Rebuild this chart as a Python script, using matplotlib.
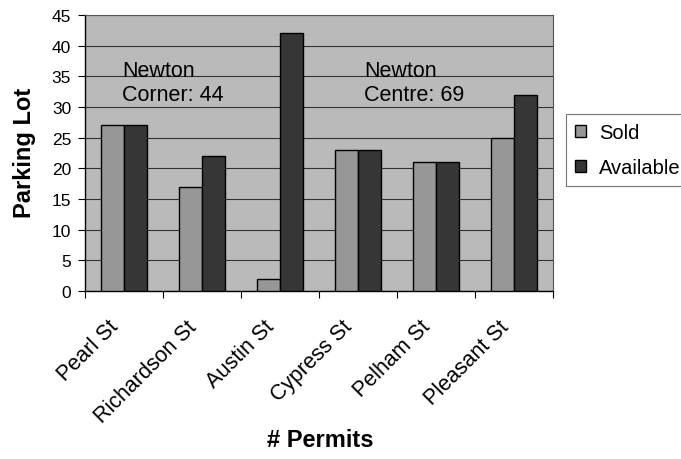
import matplotlib
matplotlib.use("Agg")
import matplotlib.pyplot as plt
import matplotlib.transforms as mtransforms
import numpy as np

categories = ["Pearl St", "Richardson St", "Austin St", "Cypress St", "Pelham St", "Pleasant St"]
sold = [27, 17, 2, 23, 21, 25]
available = [27, 22, 42, 23, 21, 32]
y_ticks = [0, 5, 10, 15, 20, 25, 30, 35, 40, 45]

plt.rcParams['font.family'] = ['Liberation Sans', 'DejaVu Sans']

fig = plt.figure(figsize=(6.81, 4.60), dpi=100)
ax = fig.add_axes([85/681, 1-292/460, 468/681, 276/460])
ax.set_facecolor('#bababa')

x = np.arange(len(categories))
w = 0.295
ax.bar(x - w/2, sold, w, color='#979797', edgecolor='black', linewidth=1.0, label='Sold', zorder=3)
ax.bar(x + w/2, available, w, color='#363636', edgecolor='black', linewidth=1.0, label='Available', zorder=3)

ax.set_xlim(-0.5, len(categories) - 0.5)
ax.set_ylim(0, 45)
ax.set_yticks(y_ticks)
ax.yaxis.grid(True, color='#333333', linewidth=0.8, zorder=1)
ax.set_axisbelow(True)

ax.set_xticks(np.arange(-0.5, len(categories), 1.0))
ax.set_xticklabels([])
ax.set_xticks(x, minor=True)
ax.set_xticklabels(categories, minor=True, rotation=45, ha='right', rotation_mode='anchor', fontsize=15.5)
ax.tick_params(axis='x', which='minor', length=0, pad=18)
ax.tick_params(axis='x', which='major', length=5, direction='out', color='black')
ax.tick_params(axis='y', length=5, direction='out', labelsize=12.5, pad=5)
offset = mtransforms.ScaledTranslation(-0.16, 0, fig.dpi_scale_trans)
for lab in ax.get_xticklabels(minor=True):
    lab.set_transform(lab.get_transform() + offset)

for s in ['top', 'right']:
    ax.spines[s].set_color('#555555')
    ax.spines[s].set_linewidth(0.8)
for s in ['left', 'bottom']:
    ax.spines[s].set_color('black')
    ax.spines[s].set_linewidth(1.0)

ax.text(-0.02, 37.6, "Newton\nCorner: 44", fontsize=15.5, va='top', ha='left', linespacing=1.15, zorder=4)
ax.text(3.08, 37.6, "Newton\nCentre: 69", fontsize=15.5, va='top', ha='left', linespacing=1.15, zorder=4)

fig.text(24/681, 1-153/460, "Parking Lot", rotation=90, fontsize=17, fontweight='bold', ha='center', va='center')
fig.text(320/681, 1-441/460, "# Permits", fontsize=17, fontweight='bold', ha='center', va='center')

leg = fig.legend(loc='upper left', bbox_to_anchor=(566/681, 1-115/460), fontsize=14.5,
                 frameon=True, fancybox=False, edgecolor='#555555', handlelength=0.55, handleheight=0.55,
                 handletextpad=0.65, borderpad=0.45, labelspacing=0.8, borderaxespad=0)
leg.get_frame().set_linewidth(0.8)

fig.savefig("out.png", dpi=100)
